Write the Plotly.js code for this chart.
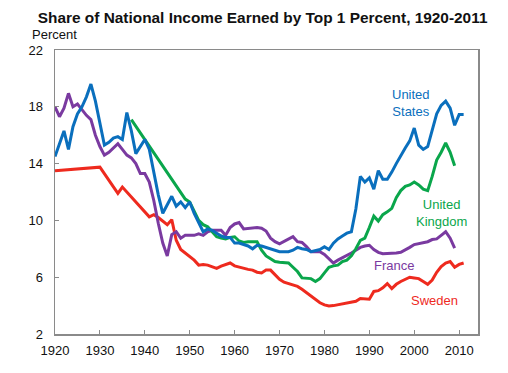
<!DOCTYPE html>
<html>
<head>
<meta charset="utf-8">
<script src="https://cdn.plot.ly/plotly-3.0.1.min.js"></script>
<style>html,body{margin:0;padding:0;background:#fff;}#chart{width:508px;height:373px;}</style>
</head>
<body>
<div id="chart"></div>
<script>
// ---- Data (percent share of national income earned by top 1%) ----
const usYears = [1920,1921,1922,1923,1924,1925,1926,1927,1928,1929,1930,1931,1932,1933,1934,1935,1936,1937,1938,1939,1940,1941,1942,1943,1944,1945,1946,1947,1948,1949,1950,1951,1952,1953,1954,1955,1956,1957,1958,1959,1960,1961,1962,1963,1964,1965,1966,1967,1968,1969,1970,1971,1972,1973,1974,1975,1976,1977,1978,1979,1980,1981,1982,1983,1984,1985,1986,1987,1988,1989,1990,1991,1992,1993,1994,1995,1996,1997,1998,1999,2000,2001,2002,2003,2004,2005,2006,2007,2008,2009,2010,2011];
const usValues = [14.5,15.4,16.3,15.0,16.6,17.5,18.0,18.7,19.6,18.4,16.8,15.3,15.5,15.8,15.9,15.7,17.6,16.3,14.7,15.2,15.7,15.0,13.3,11.8,10.5,11.1,11.7,11.0,11.3,10.9,11.3,10.5,9.8,9.2,9.4,9.3,9.1,8.9,8.8,8.8,8.4,8.4,8.3,8.2,8.0,8.25,8.2,8.1,7.95,7.85,7.8,7.8,7.8,7.9,8.1,8.0,7.95,7.8,7.85,7.95,8.15,7.95,8.4,8.7,8.9,9.1,9.2,10.8,13.1,12.7,13.0,12.2,13.5,12.9,12.9,13.4,14.0,14.6,15.1,15.6,16.5,15.3,15.0,15.2,16.4,17.5,18.1,18.4,17.9,16.7,17.45,17.45];

const ukYears = [1937,1949,1950,1951,1952,1953,1954,1955,1956,1957,1958,1959,1960,1961,1962,1963,1964,1965,1966,1967,1968,1969,1970,1971,1972,1973,1974,1975,1976,1977,1978,1979,1980,1981,1982,1983,1984,1985,1986,1987,1988,1989,1990,1991,1992,1993,1994,1995,1996,1997,1998,1999,2000,2001,2002,2003,2004,2005,2006,2007,2008,2009];
const ukValues = [17.1,11.5,11.3,10.7,10.0,9.7,9.55,9.2,8.85,8.75,8.7,8.8,8.85,8.55,8.45,8.5,8.5,8.5,7.9,7.5,7.3,7.1,7.05,7.0,7.0,6.7,6.4,5.95,5.9,5.9,5.7,5.9,6.3,6.7,6.8,6.85,7.1,7.2,7.5,8.0,8.6,8.75,9.5,10.3,9.95,10.4,10.6,10.85,11.6,12.1,12.4,12.5,12.7,12.5,12.2,12.1,13.1,14.25,14.8,15.45,14.8,13.85];

const frYears = [1920,1921,1922,1923,1924,1925,1926,1927,1928,1929,1930,1931,1932,1933,1934,1935,1936,1937,1938,1939,1940,1941,1942,1943,1944,1945,1946,1947,1948,1949,1950,1951,1952,1953,1954,1955,1956,1957,1958,1959,1960,1961,1962,1963,1964,1965,1966,1967,1968,1969,1970,1971,1972,1973,1974,1975,1976,1977,1978,1979,1980,1981,1982,1983,1984,1985,1986,1987,1988,1989,1990,1991,1992,1993,1994,1995,1996,1997,1998,1999,2000,2001,2002,2003,2004,2005,2006,2007,2008,2009];
const frValues = [18.0,17.3,17.9,18.95,18.0,18.2,17.8,17.4,17.1,16.0,15.2,14.6,14.8,15.1,15.4,15.0,14.6,14.4,14.0,13.3,13.3,12.7,11.4,9.8,8.4,7.5,9.0,9.2,8.75,8.95,8.95,8.95,9.05,8.95,9.2,9.3,9.3,9.3,8.95,9.5,9.75,9.85,9.4,9.45,9.5,9.5,9.45,9.25,8.75,8.5,8.35,8.5,8.7,8.85,8.5,8.45,8.15,7.8,7.8,7.8,7.6,7.3,7.0,7.2,7.35,7.5,7.7,7.9,8.1,8.2,8.25,7.95,7.75,7.65,7.65,7.7,7.7,7.75,7.9,8.1,8.3,8.35,8.4,8.5,8.65,8.7,8.95,9.2,8.75,8.05];

const seYears = [1920,1930,1934,1935,1941,1942,1943,1944,1945,1946,1947,1948,1949,1950,1951,1952,1953,1954,1955,1956,1957,1958,1959,1960,1961,1962,1963,1964,1965,1966,1967,1968,1969,1970,1971,1972,1973,1974,1975,1976,1977,1978,1979,1980,1981,1982,1983,1984,1985,1986,1987,1988,1989,1990,1991,1992,1993,1994,1995,1996,1997,1998,1999,2000,2001,2002,2003,2004,2005,2006,2007,2008,2009,2010,2011];
const seValues = [13.5,13.75,11.9,12.35,10.25,10.4,10.2,9.95,9.7,10.05,8.6,7.95,7.7,7.45,7.2,6.85,6.9,6.85,6.75,6.62,6.78,6.88,7.0,6.8,6.7,6.6,6.55,6.5,6.35,6.3,6.5,6.5,6.2,5.85,5.65,5.55,5.45,5.35,5.15,4.9,4.65,4.4,4.2,4.05,3.97,4.0,4.05,4.1,4.15,4.2,4.3,4.5,4.5,4.45,5.0,5.05,5.25,5.55,5.2,5.5,5.7,5.85,6.0,5.95,5.9,5.7,5.5,5.8,6.35,6.75,7.0,7.1,6.7,6.9,7.0];

const seriesNames = ["United States","United Kingdom","France","Sweden"];
const xTickVals = [1920,1930,1940,1950,1960,1970,1980,1990,2000,2010];
const yTickVals = [2,6,10,14,18,22];

// ---- Styling ----
const colors = {us:"#0a6fbd", uk:"#0aa64b", fr:"#7a3aa0", se:"#ee2a1e"};
const FONT = "Liberation Sans, Arial, Helvetica, sans-serif";

function line(x, y, name, color){
  return {x:x, y:y, name:name, type:"scatter", mode:"lines",
          line:{color:color, width:3}, hoverinfo:"skip"};
}

const traces = [
  line(seYears, seValues, seriesNames[3], colors.se),
  line(frYears, frValues, seriesNames[2], colors.fr),
  line(ukYears, ukValues, seriesNames[1], colors.uk),
  line(usYears, usValues, seriesNames[0], colors.us)
];

const ann = (text, x, y, color) => ({text:text, x:x, y:y, xref:"x", yref:"y",
  showarrow:false, xanchor:"center", yanchor:"middle", align:"center",
  font:{family:FONT, size:13, color:color}});

const layout = {
  width:508, height:373,
  margin:{l:55, r:30, t:50, b:39, pad:0},
  paper_bgcolor:"#fff", plot_bgcolor:"#fff",
  showlegend:false,
  font:{family:FONT, size:13, color:"#111"},
  title:{text:"<b>Share of National Income Earned by Top 1 Percent, 1920-2011</b>",
         x:0.517, xref:"container", xanchor:"center", y:0.954, yref:"container", yanchor:"middle",
         font:{family:FONT, size:15.4, color:"#111"}},
  xaxis:{range:[1920,2014.2], tickvals:xTickVals, ticktext:xTickVals.map(String),
         showgrid:false, zeroline:false, showline:true, linecolor:"#8a8a8a", linewidth:1.5,
         mirror:true, ticks:"inside", ticklen:4, tickcolor:"#8a8a8a", tickwidth:1,
         ticklabelstandoff:4,
         tickfont:{family:FONT, size:13, color:"#111"}},
  yaxis:{range:[2,22], tickvals:yTickVals, ticktext:yTickVals.map(String),
         showgrid:false, zeroline:false, showline:true, linecolor:"#8a8a8a", linewidth:1.5,
         mirror:true, ticks:"inside", ticklen:4, tickcolor:"#8a8a8a", tickwidth:1,
         ticklabelstandoff:8,
         tickfont:{family:FONT, size:13, color:"#111"}},
  annotations:[
    {text:"Percent", xref:"paper", yref:"paper", x:-0.059, y:1.053, xanchor:"left", yanchor:"middle",
     showarrow:false, font:{family:FONT, size:13, color:"#111"}},
    ann("United<br>States", 1999.3, 18.29, colors.us),
    ann("United<br>Kingdom", 2006.1, 10.52, colors.uk),
    ann("France", 1995.6, 6.79, colors.fr),
    ann("Sweden", 2004.6, 4.39, colors.se)
  ]
};

Plotly.newPlot("chart", traces, layout, {displayModeBar:false, staticPlot:true});
</script>
</body>
</html>
